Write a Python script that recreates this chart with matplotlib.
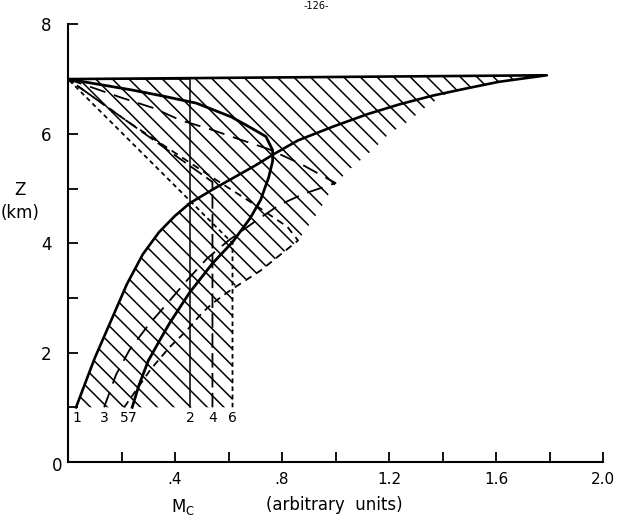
import matplotlib
matplotlib.use("Agg")
import matplotlib.pyplot as plt

# ---- data (M_c in arbitrary units, z in km) ----
c1_x = [0.03, 0.065, 0.10, 0.157, 0.22, 0.28, 0.34, 0.40, 0.455, 0.54, 0.62, 0.70, 0.77,
        0.86, 0.99, 1.12, 1.24, 1.365, 1.49, 1.61, 1.79, 0.0]
c1_z = [1.0, 1.45, 1.9, 2.54, 3.25, 3.8, 4.2, 4.5, 4.73, 4.98, 5.2, 5.42, 5.63,
        5.88, 6.13, 6.36, 6.54, 6.70, 6.83, 6.95, 7.07, 7.0]

c2_x = [0.455, 0.455, 0.0]
c2_z = [1.0, 7.0, 7.0]

c3_x = [0.135, 0.18, 0.23, 0.30, 0.38, 0.45, 0.52, 0.60, 0.70, 0.79, 0.88, 1.0,
        0.87, 0.75, 0.64, 0.54, 0.42, 0.32, 0.20, 0.10, 0.0]
c3_z = [1.0, 1.6, 2.05, 2.5, 2.95, 3.35, 3.72, 4.05, 4.4, 4.7, 4.9, 5.1,
        5.45, 5.72, 5.9, 6.07, 6.25, 6.47, 6.66, 6.83, 7.0]

c4_x = [0.54, 0.54, 0.0]
c4_z = [1.0, 5.12, 7.0]

c5_x = [0.21, 0.26, 0.31, 0.38, 0.445, 0.50, 0.54, 0.61, 0.72, 0.86, 0.82, 0.69, 0.54, 0.23, 0.0]
c5_z = [1.0, 1.35, 1.7, 2.1, 2.41, 2.72, 2.9, 3.15, 3.5, 4.05, 4.3, 4.73, 5.2, 6.2, 7.0]

c6_x = [0.615, 0.615, 0.0]
c6_z = [1.0, 4.0, 7.0]

c7_x = [0.24, 0.265, 0.30, 0.34, 0.38, 0.455, 0.54, 0.615, 0.68, 0.72, 0.75, 0.765, 0.765,
        0.74, 0.68, 0.61, 0.48, 0.355, 0.24, 0.12, 0.0]
c7_z = [1.0, 1.4, 1.85, 2.2, 2.54, 3.1, 3.63, 4.02, 4.45, 4.79, 5.2, 5.5, 5.7,
        5.95, 6.12, 6.31, 6.56, 6.69, 6.8, 6.9, 7.0]

# hatched envelope
shade_x = [0.03, 0.615, 0.615, 0.72, 0.86, 0.94, 0.99, 1.05, 1.14, 1.20, 1.27, 1.34, 1.42,
           1.61, 1.79, 0.0, 0.20, 0.455, 0.40, 0.34, 0.28, 0.22, 0.157, 0.10, 0.065]
shade_z = [1.0, 1.0, 3.2, 3.5, 4.05, 4.6, 5.03, 5.34, 5.71, 6.0, 6.22, 6.5, 6.75,
           6.95, 7.07, 7.0, 6.02, 4.78, 4.5, 4.2, 3.8, 3.25, 2.54, 1.9, 1.45]

curve_labels = ["1", "3", "5", "7", "2", "4", "6"]
label_x = [0.034, 0.135, 0.209, 0.239, 0.458, 0.54, 0.615]

xticks_major = [0.4, 0.8, 1.2, 1.6, 2.0]
xtick_labels = [".4", ".8", "1.2", "1.6", "2.0"]
xticks_minor = [0.2, 0.6, 1.0, 1.4, 1.8]
yticks_major = [0, 2, 4, 6, 8]
ytick_labels = ["", "2", "4", "6", "8"]
yticks_minor = [1, 3, 5, 7]

# ---- figure ----
plt.rcParams["hatch.linewidth"] = 1.1
fig = plt.figure(figsize=(6.39, 5.22), dpi=100)
ax = fig.add_axes([68 / 639, 60 / 522, 535 / 639, 437.6 / 522])

ax.fill(shade_x, shade_z, facecolor="none", edgecolor="black", hatch="\\\\", linewidth=0)

k = "black"
ax.plot(c1_x, c1_z, color=k, lw=1.9, solid_joinstyle="round")
ax.plot(c2_x, c2_z, color=k, lw=1.1)
ax.plot(c3_x, c3_z, color=k, lw=1.3, dashes=(9, 5))
ax.plot(c4_x, c4_z, color=k, lw=1.3, dashes=(8, 3))
ax.plot(c5_x, c5_z, color=k, lw=1.3, dashes=(4, 3))
ax.plot(c6_x, c6_z, color=k, lw=1.3, dashes=(2.5, 2))
ax.plot(c7_x, c7_z, color=k, lw=2.0, solid_joinstyle="round")

for t, x in zip(curve_labels, label_x):
    ax.text(x, 0.80, t, ha="center", va="center", fontsize=10)

ax.set_xlim(0, 2.0)
ax.set_ylim(0, 8)
ax.spines["top"].set_visible(False)
ax.spines["right"].set_visible(False)
for s in ("left", "bottom"):
    ax.spines[s].set_linewidth(1.5)

ax.set_xticks(xticks_major)
ax.set_xticklabels(xtick_labels)
ax.set_xticks(xticks_minor, minor=True)
ax.set_yticks(yticks_major)
ax.set_yticklabels(ytick_labels)
ax.set_yticks(yticks_minor, minor=True)
ax.tick_params(which="both", direction="in", length=7.5, width=1.3)
ax.tick_params(axis="x", which="major", labelsize=11, pad=7)
ax.tick_params(axis="y", which="major", labelsize=12, pad=12)

fig.text(57 / 639, 1 - 466 / 522, "0", ha="center", va="center", fontsize=12)
fig.text(20 / 639, 1 - 190 / 522, "Z", ha="center", va="center", fontsize=12)
fig.text(20 / 639, 1 - 213 / 522, "(km)", ha="center", va="center", fontsize=12)
fig.text(183 / 639, 1 - 507 / 522, r"M$_\mathregular{C}$", ha="center", va="center", fontsize=12)
fig.text(334 / 639, 1 - 505 / 522, "(arbitrary  units)", ha="center", va="center", fontsize=12)
fig.text(316 / 639, 1 - 1 / 522, "-126-", ha="center", va="top", fontsize=7)

fig.savefig("out.png", dpi=100)
